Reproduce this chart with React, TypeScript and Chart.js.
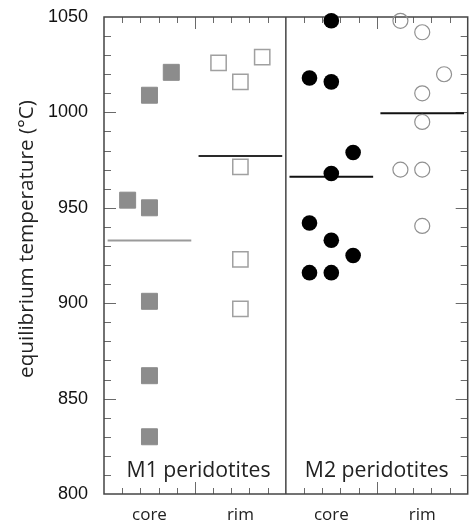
import { useEffect, useRef } from "react";
import { Chart, registerables } from "chart.js";

Chart.register(...registerables);

// ---- data ----
const positionLabels = ["core", "rim", "core", "rim"];
const groupLabels = ["M1 peridotites", "M2 peridotites"];
const yTitle = "equilibrium temperature (°C)";
const groupCenters = [2.5, 7.5, 12.5, 17.5]; // x positions of core/rim columns
const yTickValues = [800, 850, 900, 950, 1000, 1050];

const m1CoreValues = [1009, 1021, 954, 950, 901, 862, 830];
const m1CoreLanes = [0, 1, -1, 0, 0, 0, 0];
const m1RimValues = [1026, 1016, 1029, 971.5, 923, 897];
const m1RimLanes = [-1, 0, 1, 0, 0, 0];
const m2CoreValues = [1048, 1018, 1016, 979, 968, 942, 933, 925, 916, 916];
const m2CoreLanes = [0, -1, 0, 1, 0, -1, 0, 1, -1, 0];
const m2RimValues = [1048, 1042, 1020, 1010, 995, 970, 970, 940.5];
const m2RimLanes = [-1, 0, 1, 0, 0, -1, 0, 0];
const meanValues = [932.8, 977.1, 966.3, 999.5];

const LANE = 1.2;
const HALF = 2.3;

const toPoints = (vals: number[], lanes: number[], c: number) =>
  vals.map((v, i) => ({ x: c + lanes[i] * LANE, y: v }));

const meanLine = (i: number, color: string) => ({
  data: [
    { x: groupCenters[i] - HALF, y: meanValues[i] },
    { x: groupCenters[i] + HALF, y: meanValues[i] },
  ],
  showLine: true,
  pointRadius: 0,
  borderColor: color,
  borderWidth: 2,
  clip: false as const,
});

const fitFont = (ctx: any, text: string, family: string, target: number) => {
  ctx.font = `20px ${family}`;
  const w = ctx.measureText(text).width;
  const size = (20 * target) / w;
  ctx.font = `${size.toFixed(2)}px ${family}`;
};

const framePlugin = {
  id: "frame",
  beforeDatasetsDraw(chart: any) {
    const { ctx, chartArea, scales } = chart;
    const { left, right, top, bottom } = chartArea;
    const x = scales.x;
    const y = scales.y;
    const line = (x1: number, y1: number, x2: number, y2: number) => {
      ctx.beginPath();
      ctx.moveTo(x1, y1);
      ctx.lineTo(x2, y2);
      ctx.stroke();
    };
    ctx.save();
    ctx.strokeStyle = "#6a6a6a";
    ctx.lineWidth = 1;
    for (let v = 810; v < 1050; v += 10) {
      const py = Math.round(y.getPixelForValue(v)) + 0.5;
      const len = v % 50 === 0 ? 12 : 7;
      line(left, py, left + len, py);
      line(right, py, right - len, py);
    }
    for (let u = 1; u < 20; u++) {
      if (u === 10) continue;
      const px = Math.round(x.getPixelForValue(u)) + 0.5;
      const len = u % 5 === 0 ? 12 : 6;
      line(px, top, px, top + len);
      line(px, bottom, px, bottom - len);
    }
    ctx.strokeStyle = "#444";
    ctx.lineWidth = 1.5;
    ctx.strokeRect(left, top, right - left, bottom - top);
    const dx = x.getPixelForValue(10);
    line(dx, top, dx, bottom);
    ctx.restore();
  },
  afterDraw(chart: any) {
    const { ctx, scales } = chart;
    const x = scales.x;
    const y = scales.y;
    ctx.save();
    ctx.fillStyle = "#222";
    ctx.textAlign = "center";
    ctx.textBaseline = "alphabetic";
    fitFont(ctx, groupLabels[0], "'Open Sans'", 144);
    ctx.fillText(groupLabels[0], x.getPixelForValue(5.2), y.getPixelForValue(809));
    fitFont(ctx, groupLabels[1], "'Open Sans'", 144);
    ctx.fillText(groupLabels[1], x.getPixelForValue(15), y.getPixelForValue(809));
    ctx.translate(27, 239);
    ctx.rotate(-Math.PI / 2);
    fitFont(ctx, yTitle, "'Open Sans'", 278);
    ctx.textBaseline = "middle";
    ctx.fillText(yTitle, 0, 0);
    ctx.restore();
  },
};

export default function App() {
  const ref = useRef<HTMLCanvasElement>(null);
  useEffect(() => {
    const chart = new Chart(ref.current as HTMLCanvasElement, {
      type: "scatter",
      data: {
        datasets: [
          {
            data: toPoints(m1CoreValues, m1CoreLanes, groupCenters[0]),
            pointStyle: "rect",
            pointRadius: 11.3,
            backgroundColor: "#8c8c8c",
            borderColor: "#8c8c8c",
            borderWidth: 1,
            clip: false,
          },
          {
            data: toPoints(m1RimValues, m1RimLanes, groupCenters[1]),
            pointStyle: "rect",
            pointRadius: 10.8,
            backgroundColor: "rgba(0,0,0,0)",
            borderColor: "#a0a0a0",
            borderWidth: 1.5,
            clip: false,
          },
          {
            data: toPoints(m2CoreValues, m2CoreLanes, groupCenters[2]),
            pointStyle: "circle",
            pointRadius: 7.8,
            backgroundColor: "#000",
            borderColor: "#000",
            borderWidth: 0,
            clip: false,
          },
          {
            data: toPoints(m2RimValues, m2RimLanes, groupCenters[3]),
            pointStyle: "circle",
            pointRadius: 7.5,
            backgroundColor: "rgba(0,0,0,0)",
            borderColor: "#909090",
            borderWidth: 1.2,
            clip: false,
          },
          meanLine(0, "#9a9a9a"),
          meanLine(1, "#2a2a2a"),
          meanLine(2, "#111"),
          meanLine(3, "#111"),
        ] as any,
      },
      options: {
        responsive: false,
        animation: false,
        events: [],
        layout: { padding: { left: 0, right: 6, top: 17, bottom: 0 } },
        plugins: { legend: { display: false }, tooltip: { enabled: false } },
        scales: {
          x: {
            type: "linear",
            min: 0,
            max: 20,
            grid: { display: false, drawTicks: false },
            border: { display: false },
            afterBuildTicks: (s: any) => {
              s.ticks = groupCenters.map((v) => ({ value: v }));
            },
            afterFit: (s: any) => {
              s.height = 29;
              s.paddingLeft = 0;
              s.paddingRight = 0;
            },
            ticks: {
              autoSkip: false,
              maxRotation: 0,
              padding: 11,
              color: "#222",
              font: { family: "'Open Sans'", size: 17 },
              callback: (v: any) => {
                const i = groupCenters.indexOf(Number(v));
                return i >= 0 ? positionLabels[i] : "";
              },
            },
          },
          y: {
            min: 800,
            max: 1050,
            grid: { display: false, drawTicks: false },
            border: { display: false },
            afterBuildTicks: (s: any) => {
              s.ticks = yTickValues.map((v) => ({ value: v }));
            },
            afterFit: (s: any) => {
              s.width = 104;
              s.paddingTop = 0;
              s.paddingBottom = 0;
            },
            ticks: {
              padding: 16,
              color: "#111",
              font: { family: "'Liberation Sans'", size: 18 },
              callback: (v: any) => String(v),
            },
          },
        },
      },
      plugins: [framePlugin],
    });
    return () => chart.destroy();
  }, []);
  return (
    <div
      style={{
        position: "fixed",
        left: 0,
        top: 0,
        width: 473,
        height: 523,
        overflow: "hidden",
        background: "#fff",
      }}
    >
      <canvas
        ref={ref}
        width={480}
        height={523}
        style={{ display: "block", width: 480, height: 523 }}
      />
    </div>
  );
}
